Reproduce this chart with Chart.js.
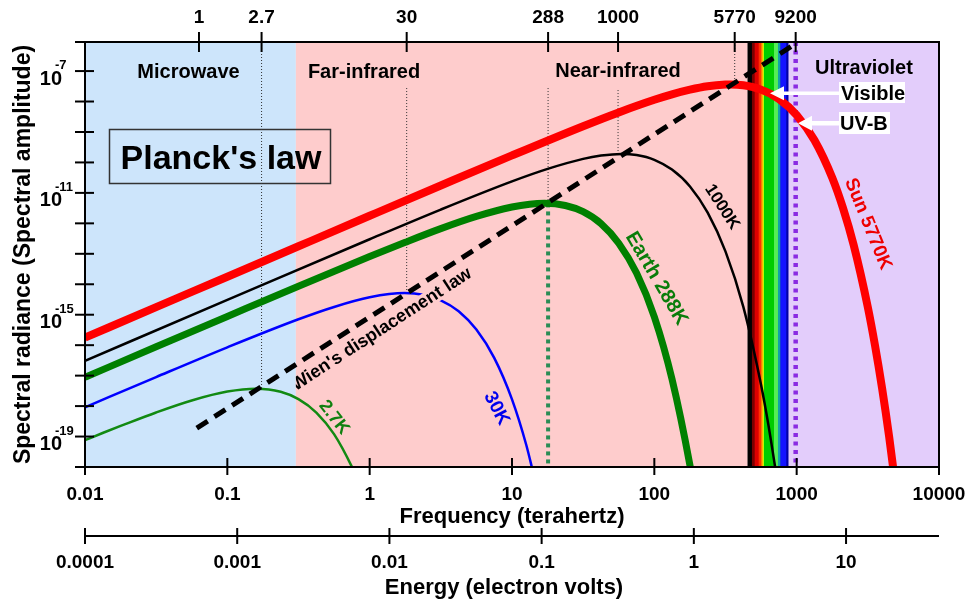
<!DOCTYPE html>
<html>
<head>
<meta charset="utf-8">
<script src="https://cdn.jsdelivr.net/npm/chart.js@4.4.1/dist/chart.umd.min.js"></script>
<style>
html,body{margin:0;padding:0;background:#ffffff;}
#wrap{width:971px;height:603px;position:relative;}
</style>
</head>
<body>
<div id="wrap"><canvas id="c" width="971" height="603"></canvas></div>
<script>
// ---------------- DATA (frequency in THz, spectral radiance) ----------------
const sunFreq  = [0.01, 0.0316, 0.1, 0.316, 1, 3.16, 10, 31.6, 56.2, 100, 133, 178, 237, 316, 339, 422, 562, 750, 1000, 1334, 1778, 2113, 2512, 3162, 3548, 3981, 4467, 5012];
const sunVal   = [1.77e-16, 1.77e-15, 1.77e-14, 1.77e-13, 1.77e-12, 1.75e-11, 1.70e-10, 1.55e-9, 4.40e-9, 1.14e-8, 1.72e-8, 2.45e-8, 3.18e-8, 3.62e-8, 3.64e-8, 3.42e-8, 2.46e-8, 1.22e-8, 3.60e-9, 5.33e-10, 3.13e-11, 3.23e-12, 1.97e-13, 1.76e-15, 1.00e-16, 3.87e-18, 9.6e-20, 1.46e-21];

const k1000Freq = [0.01, 0.1, 1, 3.16, 10, 17.8, 31.6, 42.2, 58.8, 75.0, 100, 133, 178, 237, 316, 422, 562, 631, 708];
const k1000Val  = [3.07e-17, 3.06e-15, 3.00e-13, 2.84e-12, 2.39e-11, 6.15e-11, 1.31e-10, 1.68e-10, 1.90e-10, 1.75e-10, 1.22e-10, 5.82e-11, 1.63e-11, 2.24e-12, 1.20e-13, 1.80e-15, 4.99e-18, 2.62e-19, 9.19e-21];

const earthFreq = [0.01, 0.0316, 0.1, 0.316, 1, 1.78, 3.16, 5.62, 10, 13.3, 16.9, 23.7, 31.6, 42.2, 56.2, 75.0, 100, 133, 178, 200];
const earthVal  = [8.84e-18, 8.82e-17, 8.77e-16, 8.62e-15, 8.13e-14, 2.40e-13, 6.72e-13, 1.69e-12, 3.44e-12, 4.25e-12, 4.53e-12, 3.85e-12, 2.41e-12, 9.82e-13, 2.23e-13, 2.33e-14, 8.54e-16, 7.82e-18, 1.12e-20, 4.25e-22];

const k30Freq = [0.01, 0.0316, 0.1, 0.316, 0.562, 1, 1.76, 2.37, 3.16, 4.22, 5.62, 7.50, 10, 12.6, 14.1];
const k30Val  = [9.14e-19, 8.98e-18, 8.50e-17, 7.08e-16, 1.80e-15, 3.73e-15, 5.12e-15, 4.53e-15, 2.98e-15, 1.30e-15, 3.25e-16, 3.83e-17, 1.66e-18, 5.28e-20, 6.39e-21];

const k27Freq = [0.01, 0.0133, 0.0178, 0.0316, 0.0562, 0.1, 0.159, 0.237, 0.316, 0.422, 0.562, 0.750, 0.794];
const k27Val  = [7.58e-20, 1.31e-19, 2.23e-19, 6.18e-19, 1.53e-18, 3.00e-18, 3.73e-18, 2.95e-18, 1.69e-18, 6.15e-19, 1.20e-19, 1.01e-20, 5.45e-21];

// Wien's displacement law (locus of peaks)
const wienFreq = [0.061, 966];
const wienVal  = [1.9e-19, 7.5e-7];

// thin dotted drop lines from temperature ticks to the peaks
const dropFreq   = [0.174, 1.82, 17.93, 55.6, 367];
const dropTop    = [9e-7, 2.77e-8, 2.77e-8, 2.38e-8, 9e-7];
const dropBottom = [3.7e-18, 5.1e-15, 4.51e-12, 1.89e-10, 3.61e-8];

// Earth peak dotted line and UV-B dotted line
const earthDropFreq = [17.93, 17.93];
const earthDropVal  = [4.51e-12, 1e-20];
const uvbFreq = [984, 984];
const uvbVal  = [9e-7, 1e-20];

// axes
const freqTicks   = [0.01, 0.1, 1, 10, 100, 1000, 10000];
const freqLabels  = ['0.01', '0.1', '1', '10', '100', '1000', '10000'];
const energyTicks = [0.0001, 0.001, 0.01, 0.1, 1, 10];
const energyLabels = ['0.0001', '0.001', '0.01', '0.1', '1', '10'];
const tempTickFreq = [0.0632, 0.174, 1.82, 17.93, 55.6, 367, 984];
const tempLabels   = ['1', '2.7', '30', '288', '1000', '5770', '9200'];
const yTickValues  = [1e-7, 1e-8, 1e-9, 1e-10, 1e-11, 1e-12, 1e-13, 1e-14, 1e-15, 1e-16, 1e-17, 1e-18, 1e-19, 1e-20];
const yLabelValues = [1e-7, 1e-11, 1e-15, 1e-19];
const yLabelExponents = ['-7', '-11', '-15', '-19'];

// spectral regions (THz)
const bgEdges  = [0.01, 0.303, 453, 869, 10000];
const bgColors = ['#cde5fb', '#fecccc', '#000000', '#e3cdfb'];
const spectrumEdges  = [453, 485, 507, 541, 565, 580, 589, 693, 739, 768, 847, 869];
const spectrumColors = ['#000000', '#7a0000', '#dd0000', '#ff3300', '#ffb000', '#c8ff00', '#00cc00', '#55ee55', '#10a0a8', '#1414ff', '#0000a8'];

// ---------------- CHART ----------------
const FONT = '"Liberation Sans", Arial, Helvetica, sans-serif';
Chart.defaults.font.family = FONT;

const pts = (xs, ys) => xs.map((v, i) => ({x: v, y: ys[i]}));
const curve = (xs, ys, color, w, order) => ({
  data: pts(xs, ys), borderColor: color, borderWidth: w, pointRadius: 0,
  cubicInterpolationMode: 'monotone', fill: false, clip: 0, order: order,
  xAxisID: 'x', yAxisID: 'y'
});
const straight = (xs, ys, color, w, dash, order) => ({
  data: pts(xs, ys), borderColor: color, borderWidth: w, borderDash: dash, pointRadius: 0,
  tension: 0, fill: false, clip: 0, order: order, xAxisID: 'x', yAxisID: 'y'
});

const datasets = [
  straight(wienFreq, wienVal, '#000000', 5, [13, 8], 0),
  curve(sunFreq, sunVal, '#ff0000', 8, 2),
  curve(k1000Freq, k1000Val, '#000000', 2.5, 3),
  curve(earthFreq, earthVal, '#008000', 7, 4),
  curve(k30Freq, k30Val, '#0000ff', 2.5, 5),
  curve(k27Freq, k27Val, '#128a12', 2.5, 6),
  straight(earthDropFreq, earthDropVal, '#2a8c55', 4, [4, 4], 7),
  straight(uvbFreq, uvbVal, '#8a2be2', 4.5, [4, 4.5], 8)
];
dropFreq.forEach((f, i) => {
  datasets.push(straight([f, f], [dropTop[i], dropBottom[i]], '#333333', 1, [1, 2], 9));
});

const backdrop = {
  id: 'backdrop',
  beforeDatasetsDraw(chart) {
    const {ctx, chartArea: a, scales: {x}} = chart;
    ctx.save();
    ctx.beginPath(); ctx.rect(a.left, a.top, a.right - a.left, a.bottom - a.top); ctx.clip();
    for (let i = 0; i < bgColors.length; i++) {
      const x0 = x.getPixelForValue(bgEdges[i]), x1 = x.getPixelForValue(bgEdges[i + 1]);
      ctx.fillStyle = bgColors[i];
      ctx.fillRect(x0, a.top, x1 - x0, a.bottom - a.top);
    }
    for (let i = 0; i < spectrumColors.length; i++) {
      const x0 = x.getPixelForValue(spectrumEdges[i]), x1 = x.getPixelForValue(spectrumEdges[i + 1]);
      ctx.fillStyle = spectrumColors[i];
      ctx.fillRect(x0, a.top, x1 - x0 + 0.5, a.bottom - a.top);
    }
    ctx.restore();
  }
};

function rotText(ctx, text, cx, cy, deg, font, color, bg) {
  ctx.save();
  ctx.translate(cx, cy);
  ctx.rotate(deg * Math.PI / 180);
  ctx.font = font;
  ctx.textAlign = 'center';
  ctx.textBaseline = 'middle';
  if (bg) {
    const w = ctx.measureText(text).width;
    ctx.fillStyle = bg;
    ctx.fillRect(-w / 2 - 2, -8, w + 4, 16);
  }
  ctx.fillStyle = color;
  ctx.fillText(text, 0, 0);
  ctx.restore();
}

const overlay = {
  id: 'overlay',
  afterDatasetsDraw(chart) {
    const {ctx, chartArea: a, scales: {x, y, xE, xT}} = chart;
    ctx.save();
    ctx.strokeStyle = '#000'; ctx.lineWidth = 2; ctx.lineCap = 'butt'; ctx.setLineDash([]);
    const ln = (x0, y0, x1, y1) => { ctx.beginPath(); ctx.moveTo(x0, y0); ctx.lineTo(x1, y1); ctx.stroke(); };
    // frame
    ctx.strokeRect(a.left, a.top, a.right - a.left, a.bottom - a.top);
    ln(a.left - 10, a.top, a.left, a.top);
    yTickValues.forEach(v => { const p = y.getPixelForValue(v); ln(a.left - 10, p, a.left + 9, p); });
    freqTicks.forEach(v => { const p = x.getPixelForValue(v); ln(p, a.bottom - 9, p, a.bottom + 8); });
    tempTickFreq.forEach(v => { const p = xT.getPixelForValue(v); ln(p, a.top - 10, p, a.top + 10); });
    // energy axis
    const ey = xE.top;
    ln(xE.left, ey, xE.right, ey);
    energyTicks.forEach(v => { const p = xE.getPixelForValue(v); ln(p, ey - 8, p, ey + 8); });

    // y tick labels 10^n
    ctx.fillStyle = '#000'; ctx.textBaseline = 'alphabetic';
    yLabelValues.forEach((v, i) => {
      const p = y.getPixelForValue(v);
      ctx.font = 'bold 20px ' + FONT; ctx.textAlign = 'right';
      ctx.fillText('10', 62, p + 13.5);
      ctx.font = 'bold 13px ' + FONT; ctx.textAlign = 'left';
      ctx.fillText(yLabelExponents[i], 55, p - 2);
    });

    // axis titles
    ctx.save();
    ctx.translate(30, 254.5); ctx.rotate(-Math.PI / 2);
    ctx.font = 'bold 23px ' + FONT; ctx.textAlign = 'center'; ctx.textBaseline = 'alphabetic';
    ctx.fillText('Spectral radiance (Spectral amplitude)', 0, 0);
    ctx.restore();
    ctx.font = 'bold 22px ' + FONT; ctx.textAlign = 'center'; ctx.textBaseline = 'alphabetic';
    ctx.fillText('Frequency (terahertz)', (a.left + a.right) / 2, 523);
    ctx.fillText('Energy (electron volts)', 504, 594);

    // region labels
    ctx.font = 'bold 20px ' + FONT; ctx.textBaseline = 'middle'; ctx.textAlign = 'center';
    ctx.fillText('Microwave', 188.5, 72);
    ctx.fillText('Far-infrared', 364, 72);
    ctx.fillText('Near-infrared', 618, 71);
    ctx.fillText('Ultraviolet', 864, 68);

    // Planck's law box
    ctx.strokeStyle = '#333'; ctx.lineWidth = 1.5;
    ctx.strokeRect(109.5, 129.5, 221, 54);
    ctx.font = 'bold 34px ' + FONT; ctx.textBaseline = 'alphabetic';
    ctx.fillText("Planck's law", 221, 168.5);

    // arrows + boxes
    ctx.fillStyle = '#ffffff';
    const arrow = (tipX, tipY, headX, tailX, hh, sh) => {
      ctx.beginPath();
      ctx.moveTo(tipX, tipY);
      ctx.lineTo(headX, tipY - hh); ctx.lineTo(headX, tipY - sh); ctx.lineTo(tailX, tipY - sh);
      ctx.lineTo(tailX, tipY + sh); ctx.lineTo(headX, tipY + sh); ctx.lineTo(headX, tipY + hh);
      ctx.closePath(); ctx.fill();
    };
    arrow(770, 93.3, 784, 840, 7, 1.8);
    arrow(798, 123.3, 812, 840, 7.5, 2.2);
    ctx.fillRect(839, 82, 66, 21);
    ctx.fillRect(839, 112, 51, 22);
    ctx.fillStyle = '#000'; ctx.font = 'bold 20px ' + FONT; ctx.textAlign = 'left'; ctx.textBaseline = 'alphabetic';
    ctx.fillText('Visible', 841, 100);
    ctx.fillText('UV-B', 840, 130);

    // curve labels
    rotText(ctx, 'Sun 5770K', 868, 224, 67.8, 'bold 19px ' + FONT, '#ee0000');
    rotText(ctx, '1000K', 722, 207, 57, 'bold 17px ' + FONT, '#000000');
    rotText(ctx, 'Earth 288K', 656.5, 278.5, 59.6, 'bold 20px ' + FONT, '#0a7d0a');
    rotText(ctx, '30K', 496.5, 408.5, 62, 'bold 19px ' + FONT, '#0000ee');
    rotText(ctx, '2.7K', 334, 417.5, 52, 'bold 18px ' + FONT, '#108010');
    ctx.save();
    const xb = x.getPixelForValue(bgEdges[1]);
    ctx.beginPath(); ctx.rect(xb, a.top, a.right - xb, a.bottom - a.top); ctx.clip();
    rotText(ctx, "Wien's displacement law", 381.5, 329.5, -33, 'bold 18px ' + FONT, '#000000', '#fecccc');
    ctx.restore();

    ctx.restore();
  }
};

const tickFont = {family: FONT, size: 19, weight: 'bold'};
const noPad = s => { s.paddingLeft = 0; s.paddingRight = 0; s.paddingTop = 0; s.paddingBottom = 0; };

new Chart(document.getElementById('c'), {
  type: 'line',
  data: {datasets: datasets},
  options: {
    responsive: false,
    animation: false,
    devicePixelRatio: 1,
    layout: {padding: {left: 0, right: 32, top: 0, bottom: 0}},
    plugins: {legend: {display: false}, tooltip: {enabled: false}},
    scales: {
      x: {
        type: 'logarithmic', position: 'bottom', min: 0.01, max: 10000, bounds: 'data', weight: 0,
        afterBuildTicks: s => { s.ticks = freqTicks.map(v => ({value: v})); },
        afterFit: s => { s.height = 69; noPad(s); },
        grid: {display: false, drawTicks: false}, border: {display: false},
        ticks: {autoSkip: false, maxRotation: 0, minRotation: 0, padding: 16, color: '#000', font: tickFont,
                callback: (v, i) => freqLabels[i]}
      },
      xE: {
        type: 'logarithmic', position: 'bottom', min: 0.0001, max: 40.8, bounds: 'data', weight: 1,
        afterBuildTicks: s => { s.ticks = energyTicks.map(v => ({value: v})); },
        afterFit: s => { s.height = 67; noPad(s); },
        grid: {display: false, drawTicks: false}, border: {display: false},
        ticks: {autoSkip: false, maxRotation: 0, minRotation: 0, padding: 15, color: '#000', font: tickFont,
                callback: (v, i) => energyLabels[i]}
      },
      xT: {
        type: 'logarithmic', position: 'top', min: 0.01, max: 10000, bounds: 'data',
        afterBuildTicks: s => { s.ticks = tempTickFreq.map(v => ({value: v})); },
        afterFit: s => { s.height = 42; noPad(s); },
        grid: {display: false, drawTicks: false}, border: {display: false},
        ticks: {autoSkip: false, maxRotation: 0, minRotation: 0, padding: 13, color: '#000', font: tickFont,
                callback: (v, i) => tempLabels[i]}
      },
      y: {
        type: 'logarithmic', position: 'left', min: 1e-20, max: 9e-7, bounds: 'data',
        afterBuildTicks: s => { s.ticks = yTickValues.map(v => ({value: v})); },
        afterFit: s => { s.width = 85; noPad(s); },
        grid: {display: false, drawTicks: false}, border: {display: false},
        ticks: {display: false}
      }
    }
  },
  plugins: [backdrop, overlay]
});
</script>
</body>
</html>
